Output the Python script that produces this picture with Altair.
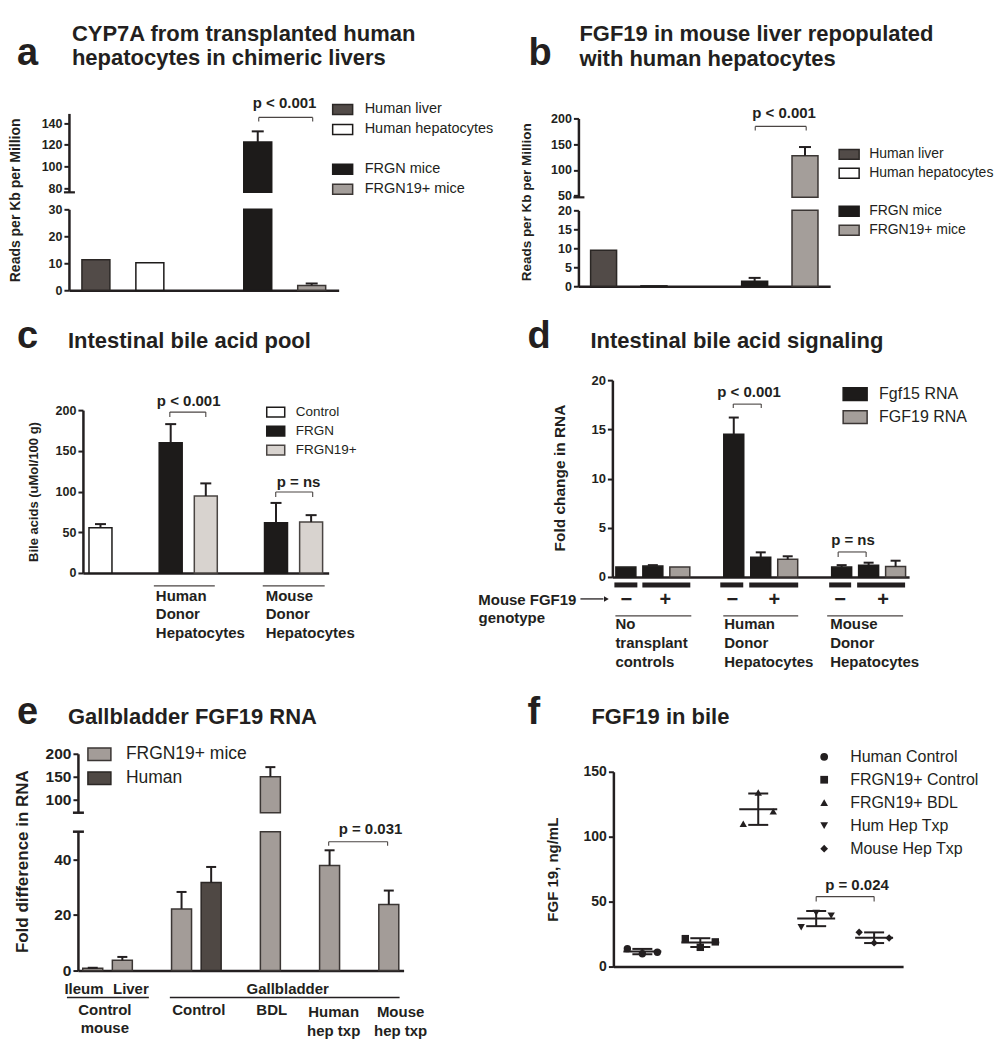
import altair as alt
import pandas as pd

FONT = "Liberation Sans"
INK = "#231f20"
GREY_LINE = "#4a4543"
ONE = [{"k": 1}]
RECT_W = "M-1,-0.5H1V0.5H-1Z"
RECT_D = "M-1,-0.55H1V0.55H-1Z"

# ---------------- data ----------------
# a: CYP7A
a_slots = ["Human liver", "Human hepatocytes", "gap", "FRGN mice", "FRGN19+ mice"]
a_cats = ["Human liver", "Human hepatocytes", "FRGN mice", "FRGN19+ mice"]
a_vals = [11.3, 10.2, 122.5, 1.8]
a_sem = [0.0, 0.0, 9.9, 0.7]
ab_legend = ["Human liver", "Human hepatocytes", " ", "FRGN mice", "FRGN19+ mice"]
ab_fill = ["#524b48", "#ffffff", "transparent", "#1d1b1a", "#a49e9a"]
ab_line = ["#2b2725", "#1d1b1a", "transparent", "#1d1b1a", "#3b3634"]

# b: FGF19 in mouse liver
b_cats = ["Human liver", "Human hepatocytes", "FRGN mice", "FRGN19+ mice"]
b_vals = [9.5, 0.1, 1.3, 127.8]
b_sem = [0.0, 0.0, 0.9, 16.7]

# c: intestinal bile acid pool
c_slots = ["Control", "g1", "Human FRGN", "Human FRGN19+", "g2", "Mouse FRGN", "Mouse FRGN19+"]
c_bars = ["Control", "Human FRGN", "Human FRGN19+", "Mouse FRGN", "Mouse FRGN19+"]
c_series = ["Control", "FRGN", "FRGN19+", "FRGN", "FRGN19+"]
c_vals = [55.6, 160.0, 94.5, 61.7, 62.5]
c_sem = [4.4, 22.8, 15.5, 24.3, 8.5]
c_legend = ["Control", "FRGN", "FRGN19+"]
c_fill = ["#ffffff", "#1d1b1a", "#d8d3cf"]
c_line = ["#1d1b1a", "#1d1b1a", "#4a4543"]

# d: intestinal bile acid signaling
d_slots = ["No -", "No +", "No + 19", "g1", "Hum -", "Hum +", "Hum + 19", "g2", "Mou -", "Mou +", "Mou + 19"]
d_bars = ["No -", "No +", "No + 19", "Hum -", "Hum +", "Hum + 19", "Mou -", "Mou +", "Mou + 19"]
d_series = ["Fgf15 RNA", "Fgf15 RNA", "FGF19 RNA"] * 3
d_vals = [1.0, 1.1, 1.0, 14.5, 2.0, 1.8, 1.0, 1.2, 1.05]
d_sem = [0.0, 0.1, 0.0, 1.7, 0.5, 0.3, 0.2, 0.25, 0.6]
d_legend = ["Fgf15 RNA", "FGF19 RNA"]
d_fill = ["#1d1b1a", "#a49e9a"]
d_line = ["#1d1b1a", "#3b3634"]

# e: gallbladder FGF19 RNA
e_slots = ["Ileum", "Liver", "g1", "Control FRGN19+", "Control Human", "g2", "BDL", "g3",
           "Human hep txp", "g4", "Mouse hep txp"]
e_bars = ["Ileum", "Liver", "Control FRGN19+", "Control Human", "BDL", "Human hep txp", "Mouse hep txp"]
e_series = ["FRGN19+ mice", "FRGN19+ mice", "FRGN19+ mice", "Human", "FRGN19+ mice", "FRGN19+ mice", "FRGN19+ mice"]
e_vals = [0.8, 3.7, 22.2, 31.7, 150.0, 37.8, 23.8]
e_sem = [0.2, 1.2, 6.1, 5.6, 21.0, 5.5, 5.0]
e_legend = ["FRGN19+ mice", "Human"]
e_fill = ["#a39c98", "#4f4844"]
e_line = ["#3b3634", "#2b2725"]

# f: FGF19 in bile (individual points, left to right)
f_groups = ["Human Control", "FRGN19+ Control", "FRGN19+ BDL", "Hum Hep Txp", "Mouse Hep Txp"]
f_shapes = ["circle", "square", "triangle-up", "triangle-down", "diamond"]
f_vals = [[13.8, 9.8, 11.0], [21.5, 14.8, 19.0], [110.0, 134.0, 119.5], [30.3, 41.3, 39.2], [26.4, 18.2, 22.0]]


def bar_df(slots, series, vals, sem):
    return pd.DataFrame({"slot": slots, "series": series, "val": vals, "sem": sem})


class Pane:
    def __init__(self, ox, oy):
        self.ox, self.oy = ox, oy

    def text(self, s, x, y, size=15, weight="bold", align="left", baseline="alphabetic", angle=0, lh=None):
        kw = dict(text=s, font=FONT, fontSize=size, fontWeight=weight, align=align,
                  baseline=baseline, color=INK)
        if "\n" in s:
            kw["lineBreak"] = "\n"
            kw["lineHeight"] = lh or size * 1.25
        if angle:
            kw["angle"] = angle
        return alt.Chart(alt.Data(values=ONE)).mark_text(**kw).encode(
            x=alt.value(x - self.ox), y=alt.value(y - self.oy))

    def line(self, x1, y1, x2, y2, w=1.0, color=INK):
        return alt.Chart(alt.Data(values=ONE)).mark_rule(strokeWidth=w, color=color).encode(
            x=alt.value(x1 - self.ox), y=alt.value(y1 - self.oy),
            x2=alt.value(x2 - self.ox), y2=alt.value(y2 - self.oy))

    def bracket(self, x1, x2, y, drop=4):
        return [self.line(x1, y, x2, y, 1.1, GREY_LINE),
                self.line(x1, y, x1, y + drop, 1.1, GREY_LINE),
                self.line(x2, y, x2, y + drop, 1.1, GREY_LINE)]


def rect_legend(x, y, size, path, fs, rowpad, laboff):
    return alt.Legend(title=None, orient="none", legendX=x, legendY=y, symbolType=path,
                      symbolSize=size, symbolStrokeWidth=1.5, labelFont=FONT, labelFontSize=fs,
                      labelColor=INK, labelFontWeight="normal", rowPadding=rowpad,
                      labelOffset=laboff, padding=0, symbolOffset=0)


def bar_segment(df, slots, xr, xoff, ydom, yr, yticks, yoff, labsize, leg_dom, fill_rng, line_rng,
                legend, barw, capw, part="single"):
    xenc = alt.X("slot:N", scale=alt.Scale(domain=slots, range=xr, paddingInner=0, paddingOuter=0),
                 axis=alt.Axis(title=None, labels=False, ticks=False, offset=xoff))
    ysc = alt.Scale(domain=ydom, range=yr, clamp=True, zero=False, nice=False)
    yax = alt.Axis(title=None, orient="left", values=yticks, offset=yoff, labelFontSize=labsize)
    fill = alt.Fill("series:N", scale=alt.Scale(domain=leg_dom, range=fill_rng), legend=legend)
    stroke = alt.Stroke("series:N", scale=alt.Scale(domain=leg_dom, range=line_rng), legend=legend)
    base = alt.Chart(df).transform_calculate(base=str(ydom[0]), top="datum.val + datum.sem")
    if part == "top":
        base = base.transform_filter(f"datum.val > {ydom[0]}")
    err = base.transform_filter("datum.sem > 0")
    if part == "bottom":
        err = err.transform_filter(f"datum.top <= {ydom[1]}")
    bars = base.mark_bar(width=barw, strokeWidth=1.5).encode(
        x=xenc, y=alt.Y("val:Q", scale=ysc, axis=yax), y2="base:Q", fill=fill, stroke=stroke)
    rule = err.mark_rule(strokeWidth=2, color=INK).encode(
        x=xenc, y=alt.Y("val:Q", scale=ysc, axis=yax), y2="top:Q")
    cap = err.mark_tick(size=capw, thickness=2, color=INK, opacity=1).encode(
        x=xenc, y=alt.Y("top:Q", scale=ysc, axis=yax))
    return alt.layer(bars, rule, cap)


# ---------------- panel a ----------------
P = Pane(8, 8)
df_a = bar_df(a_cats, a_cats, a_vals, a_sem)
leg_a = rect_legend(323, 90, 400, RECT_W, 14.5, 1, 11)
a_bot = bar_segment(df_a, a_slots, [60, 330], -10, [0, 30], [282, 201], [0, 10, 20, 30], -60, 12.5,
                    ab_legend, ab_fill, ab_line, leg_a, 28, 12, "bottom")
a_top = bar_segment(df_a, a_slots, [60, 330], -10, [76, 149], [184, 105], [80, 100, 120, 140], -60, 12.5,
                    ab_legend, ab_fill, ab_line, leg_a, 28, 12, "top")
pa = alt.layer(
    a_bot, a_top,
    P.text("a", 16, 65, size=38),
    P.text("CYP7A from transplanted human\nhepatocytes in chimeric livers", 71, 41, size=22, lh=24),
    P.text("Reads per Kb per Million", 15, 200, size=14, align="center", baseline="middle", angle=270),
    P.text("p < 0.001", 252, 108, size=15),
    *P.bracket(258, 312, 117),
    P.line(63, 192, 74, 192, 2.2),
).resolve_scale(y="independent").properties(width=492, height=292)

# ---------------- panel b ----------------
P = Pane(500, 8)
df_b = bar_df(b_cats, b_cats, b_vals, b_sem)
leg_b = rect_legend(338, 135, 400, RECT_W, 14, 0, 9)
b_bot = bar_segment(df_b, a_slots, [78, 330], -14, [0, 20], [278, 202], [0, 5, 10, 15, 20], -78, 12.5,
                    ab_legend, ab_fill, ab_line, leg_b, 26, 12, "bottom")
b_top = bar_segment(df_b, a_slots, [78, 330], -14, [47, 200], [189, 110], [50, 100, 150, 200], -78, 12.5,
                    ab_legend, ab_fill, ab_line, leg_b, 26, 12, "top")
pb = alt.layer(
    b_bot, b_top,
    P.text("b", 528, 65, size=38),
    P.text("FGF19 in mouse liver repopulated\nwith human hepatocytes", 579, 41, size=22, lh=25),
    P.text("Reads per Kb per Million", 527, 202, size=13.5, align="center", baseline="middle", angle=270),
    P.text("p < 0.001", 752, 118, size=15),
    *P.bracket(755, 806, 126),
    P.line(573, 197, 584, 197, 2.2),
).resolve_scale(y="independent").properties(width=495, height=292)

# ---------------- panel c ----------------
P = Pane(8, 300)
df_c = bar_df(c_bars, c_series, c_vals, c_sem)
leg_c = rect_legend(257, 102, 324, RECT_D, 13.5, 1, 10)
c_seg = bar_segment(df_c, c_slots, [74, 320], -67, [0, 200], [273, 110], [0, 50, 100, 150, 200], -74, 12.5,
                    c_legend, c_fill, c_line, leg_c, 23, 11)
pc = alt.layer(
    c_seg,
    P.text("c", 16, 348, size=38),
    P.text("Intestinal bile acid pool", 67, 348, size=22),
    P.text("Bile acids (uMol/100 g)", 33, 492, size=13, align="center", baseline="middle", angle=270),
    P.text("p < 0.001", 156, 406, size=15),
    *P.bracket(169, 205, 412, 5),
    P.text("p = ns", 276, 487, size=15),
    *P.bracket(275, 312, 492, 5),
    P.line(153, 586, 214, 586, 1.2, GREY_LINE),
    P.line(262, 586, 324, 586, 1.2, GREY_LINE),
    P.text("Human\nDonor\nHepatocytes", 155, 601, size=15, lh=18.5),
    P.text("Mouse\nDonor\nHepatocytes", 265, 601, size=15, lh=18.5),
).properties(width=492, height=340)

# ---------------- panel d ----------------
P = Pane(500, 300)
df_d = bar_df(d_bars, d_series, d_vals, d_sem)
leg_d = rect_legend(342, 81, 576, "M-1,-0.54H1V0.54H-1Z", 16, 0, 11)
d_seg = bar_segment(df_d, d_slots, [112, 409], -63, [0, 20], [277, 80], [0, 5, 10, 15, 20], -112, 13,
                    d_legend, d_fill, d_line, leg_d, 20, 10)
d_marks = []
for x1, x2 in [(614, 637), (642, 690), (720, 743), (749, 798), (829, 851), (857, 905)]:
    d_marks.append(P.line(x1, 585, x2, 585, 5))
for sx, sgn in [(626, "\u2212"), (665, "+"), (732, "\u2212"), (774, "+"), (840, "\u2212"), (883, "+")]:
    d_marks.append(P.text(sgn, sx, 600, size=20, align="center", baseline="middle"))
arrow_head = alt.Chart(alt.Data(values=ONE)).mark_point(
    shape="triangle-right", filled=True, size=30, color=INK, opacity=1).encode(
    x=alt.value(606 - 500), y=alt.value(599 - 300))
pd_ = alt.layer(
    d_seg,
    P.text("d", 527, 348, size=38),
    P.text("Intestinal bile acid signaling", 590, 348, size=22),
    P.text("Fold change in RNA", 560, 478, size=15.5, align="center", baseline="middle", angle=270),
    P.text("p < 0.001", 717, 397, size=15),
    *P.bracket(733, 761, 404, 4),
    P.text("p = ns", 831, 545, size=15),
    *P.bracket(838, 866, 552, 5),
    *d_marks,
    P.text("Mouse FGF19", 576, 605, size=15, align="right"),
    P.text("genotype", 478, 623, size=15),
    P.line(580, 599, 603, 599, 1.3),
    arrow_head,
    P.line(615, 616, 691, 616, 1.1, GREY_LINE),
    P.line(723, 616, 798, 616, 1.1, GREY_LINE),
    P.line(827, 616, 903, 616, 1.1, GREY_LINE),
    P.text("No\ntransplant\ncontrols", 615, 629, size=15, lh=19),
    P.text("Human\nDonor\nHepatocytes", 724, 629, size=15, lh=19),
    P.text("Mouse\nDonor\nHepatocytes", 830, 629, size=15, lh=19),
).properties(width=495, height=340)

# ---------------- panel e ----------------
P = Pane(8, 640)
df_e = bar_df(e_bars, e_series, e_vals, e_sem)
leg_e = rect_legend(78, 102, 529, RECT_D, 17.5, 2, 14)
e_bot = bar_segment(df_e, e_slots, [69, 395], -69, [0, 50], [331, 192], [0, 20, 40], -69, 15.5,
                    e_legend, e_fill, e_line, leg_e, 20, 10, "bottom")
e_top = bar_segment(df_e, e_slots, [69, 395], -69, [72, 200], [173, 114], [100, 150, 200], -69, 15.5,
                    e_legend, e_fill, e_line, leg_e, 20, 10, "top")
pe = alt.layer(
    e_bot, e_top,
    P.text("e", 16, 724, size=38),
    P.text("Gallbladder FGF19 RNA", 67, 724, size=22),
    P.text("Fold difference in RNA", 22, 862, size=17, align="center", baseline="middle", angle=270),
    P.text("p = 0.031", 338, 834, size=15),
    *P.bracket(328, 387, 842, 4),
    P.line(72, 813, 83, 813, 2.5),
    P.line(72, 832, 83, 832, 2.5),
    P.text("Ileum", 83, 994, size=15, align="center"),
    P.text("Liver", 130, 994, size=15, align="center"),
    P.line(66, 998, 148, 998, 1.5),
    P.text("Control\nmouse", 104, 1015, size=15, align="center", lh=19),
    P.text("Gallbladder", 287, 994, size=15, align="center"),
    P.line(169, 998, 399, 998, 1.5),
    P.text("Control", 198, 1015, size=15, align="center"),
    P.text("BDL", 271, 1015, size=15, align="center"),
    P.text("Human\nhep txp", 333, 1017, size=15, align="center", lh=19.5),
    P.text("Mouse\nhep txp", 400, 1017, size=15, align="center", lh=19.5),
).resolve_scale(y="independent").properties(width=492, height=400)

# ---------------- panel f ----------------
P = Pane(500, 640)
f_rows = []
for g, vs in zip(f_groups, f_vals):
    for i, v in enumerate(vs):
        f_rows.append({"grp": g, "rep": i + 1, "v": v})
df_f = pd.DataFrame(f_rows)
xf = alt.X("grp:N", scale=alt.Scale(domain=f_groups, range=[113, 403], paddingInner=0, paddingOuter=0),
           axis=alt.Axis(title=None, labels=False, ticks=False, offset=-73))
ysf = alt.Scale(domain=[0, 150], range=[327, 132], nice=False, zero=False)
yaf = alt.Axis(title=None, orient="left", values=[0, 50, 100, 150], offset=-113, labelFontSize=14)
leg_f = alt.Legend(title=None, orient="none", legendX=316, legendY=109, symbolSize=60,
                   symbolFillColor=INK, symbolStrokeColor=INK, labelFont=FONT, labelFontSize=16,
                   labelColor=INK, labelFontWeight="normal", rowPadding=7, labelOffset=18, padding=0)
pts = alt.Chart(df_f).mark_point(filled=True, size=55, color=INK, opacity=1).encode(
    x=xf,
    xOffset=alt.XOffset("rep:N", scale=alt.Scale(range=[14, 44], paddingInner=0, paddingOuter=0)),
    y=alt.Y("v:Q", scale=ysf, axis=yaf),
    shape=alt.Shape("grp:N", scale=alt.Scale(domain=f_groups, range=f_shapes), legend=leg_f))
stats = alt.Chart(df_f).transform_aggregate(
    m="mean(v)", sd="stdev(v)", groupby=["grp"]).transform_calculate(
    lo="datum.m - datum.sd", hi="datum.m + datum.sd")
f_mean = stats.mark_tick(size=38, thickness=2, color=INK, opacity=1).encode(
    x=xf, y=alt.Y("m:Q", scale=ysf, axis=yaf))
f_sd = stats.mark_rule(strokeWidth=2, color=INK).encode(
    x=xf, y=alt.Y("lo:Q", scale=ysf, axis=yaf), y2="hi:Q")
f_lo = stats.mark_tick(size=20, thickness=2, color=INK, opacity=1).encode(
    x=xf, y=alt.Y("lo:Q", scale=ysf, axis=yaf))
f_hi = stats.mark_tick(size=20, thickness=2, color=INK, opacity=1).encode(
    x=xf, y=alt.Y("hi:Q", scale=ysf, axis=yaf))
pf = alt.layer(
    f_sd, f_lo, f_hi, f_mean, pts,
    P.text("f", 527, 724, size=38),
    P.text("FGF19 in bile", 591, 724, size=22),
    P.text("FGF 19, ng/mL", 553, 870, size=15, align="center", baseline="middle", angle=270),
    P.text("p = 0.024", 825, 890, size=15),
    *P.bracket(816, 874, 897, 5),
).properties(width=495, height=400)

chart = alt.concat(pa, pb, pc, pd_, pe, pf, columns=2, spacing=0, bounds="flush").resolve_scale(
    x="independent", y="independent", fill="independent", stroke="independent", shape="independent"
).properties(padding=0).configure_view(stroke=None).configure_axis(
    domainColor=INK, domainWidth=2.5, tickColor=INK, tickWidth=2, tickSize=5,
    labelFont=FONT, labelFontWeight="bold", labelColor=INK, labelPadding=2, grid=False)

chart.save("out.html", embed_options={"renderer": "svg", "actions": False})
